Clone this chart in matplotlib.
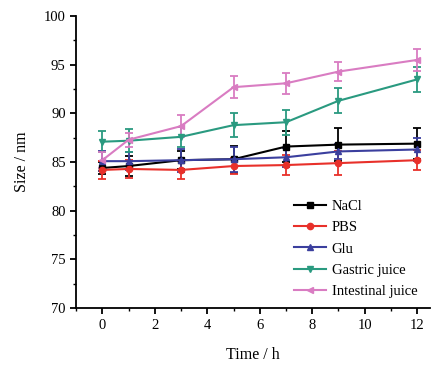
import matplotlib.pyplot as plt
from matplotlib.ticker import MultipleLocator
from matplotlib.lines import Line2D
import matplotlib
matplotlib.rcParams['font.family'] = 'Liberation Serif'

time = [0, 1, 3, 5, 7, 9, 12]

nacl = [84.4, 84.6, 85.2, 85.3, 86.6, 86.8, 86.9]
nacl_err = [0.6, 1.0, 0.9, 1.4, 1.6, 1.7, 1.6]
pbs = [84.2, 84.3, 84.2, 84.6, 84.7, 84.9, 85.2]
pbs_err = [0.9, 0.9, 0.9, 0.8, 1.0, 1.2, 1.0]
glu = [85.1, 85.1, 85.2, 85.3, 85.5, 86.1, 86.3]
glu_err = [1.0, 0.9, 1.2, 1.3, 1.0, 0.8, 1.2]
gastric = [87.1, 87.2, 87.6, 88.8, 89.1, 91.3, 93.5]
gastric_err = [1.1, 1.2, 1.0, 1.2, 1.3, 1.3, 1.3]
intestinal = [85.2, 87.3, 88.7, 92.7, 93.1, 94.3, 95.5]
intestinal_err = [0.8, 0.7, 1.1, 1.1, 1.1, 1.0, 1.1]

series = [
    ('NaCl', nacl, nacl_err, '#000000', 's'),
    ('PBS', pbs, pbs_err, '#E8302A', 'o'),
    ('Glu', glu, glu_err, '#3B3F9E', '^'),
    ('Gastric juice', gastric, gastric_err, '#2A9A80', 'v'),
    ('Intestinal juice', intestinal, intestinal_err, '#D97CC2', '<'),
]

fig = plt.figure(figsize=(4.4, 3.66), dpi=100)
ax = fig.add_axes([0.173, 0.158, 0.805, 0.798])

handles = []
for name, y, err, c, m in series:
    ax.errorbar(time, y, yerr=err, color=c, marker=m, markersize=4.5,
                linewidth=1.5, elinewidth=1.3, capsize=3, capthick=1.3)
    handles.append(Line2D([], [], color=c, marker=m, markersize=4.5,
                          linewidth=1.5, label=name))

ax.set_xlim(-1, 12.5)
ax.set_ylim(70, 100)
ax.xaxis.set_major_locator(MultipleLocator(2))
ax.xaxis.set_minor_locator(MultipleLocator(1))
ax.yaxis.set_major_locator(MultipleLocator(5))
ax.yaxis.set_minor_locator(MultipleLocator(2.5))
ax.spines['top'].set_visible(False)
ax.spines['right'].set_visible(False)
for s in ['left', 'bottom']:
    ax.spines[s].set_linewidth(1.3)
ax.tick_params(which='major', direction='out', length=4, width=1.3, labelsize=10.5)
ax.tick_params(which='minor', direction='out', length=2.5, width=1.0)

ax.set_xlabel('Time / h', fontsize=11.5, labelpad=11)
ax.set_ylabel('Size / nm', fontsize=11.5, labelpad=10)

ax.legend(handles=handles, loc='lower right', frameon=False, fontsize=10.5,
          handlelength=2.2, labelspacing=0.55, handletextpad=0.4,
          bbox_to_anchor=(1.0, -0.01))

fig.savefig('out.png', dpi=100, facecolor='white')
